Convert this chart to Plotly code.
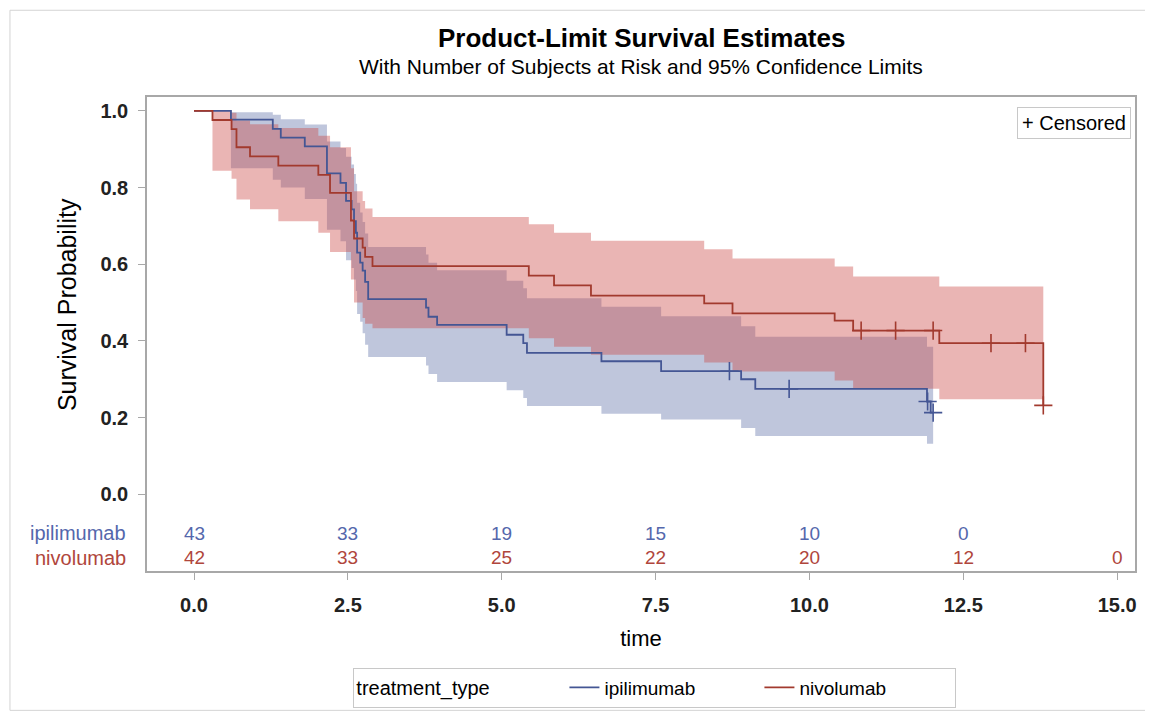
import plotly.graph_objects as go

# ---------------- data ----------------
groups = ["ipilimumab", "nivolumab"]

ipi_time = [0, 0.60, 1.28, 1.41, 1.80, 2.16, 2.38, 2.47, 2.56, 2.60, 2.63, 2.65, 2.70, 2.74, 2.78, 2.83,
            3.77, 3.81, 3.95, 5.08, 5.35, 5.41, 6.62, 7.59, 8.89, 9.12, 11.91, 11.97]
ipi_surv = [1.0, 0.977, 0.953, 0.930, 0.907, 0.837, 0.812, 0.765, 0.743, 0.712, 0.682, 0.630, 0.604, 0.583, 0.554, 0.509,
            0.487, 0.463, 0.442, 0.416, 0.394, 0.369, 0.347, 0.321, 0.300, 0.275, 0.242, 0.213]
ipi_upper = [1.0, 0.996, 0.990, 0.978, 0.964, 0.920, 0.903, 0.880, 0.860, 0.835, 0.810, 0.760, 0.735, 0.710, 0.680, 0.645,
             0.625, 0.604, 0.584, 0.557, 0.537, 0.511, 0.489, 0.464, 0.438, 0.411, 0.385, 0.385]
ipi_lower = [1.0, 0.850, 0.820, 0.800, 0.770, 0.690, 0.660, 0.610, 0.590, 0.560, 0.530, 0.470, 0.450, 0.420, 0.390, 0.358,
             0.336, 0.314, 0.293, 0.271, 0.251, 0.230, 0.210, 0.195, 0.173, 0.152, 0.132, 0.132]
ipi_end = 12.01
ipi_cens_time = [8.70, 9.67, 11.92, 12.01]
ipi_cens_surv = [0.321, 0.275, 0.242, 0.213]

niv_time = [0, 0.30, 0.61, 0.69, 0.91, 1.37, 2.02, 2.21, 2.55, 2.60, 2.74, 2.78, 2.90,
            5.44, 5.85, 6.45, 8.29, 8.75, 10.41, 10.71, 12.11, 13.80]
niv_surv = [1.0, 0.976, 0.952, 0.905, 0.881, 0.857, 0.833, 0.786, 0.714, 0.667, 0.643, 0.619, 0.595,
            0.570, 0.545, 0.518, 0.498, 0.472, 0.453, 0.427, 0.394, 0.232]
niv_upper = [1.0, 1.0, 0.995, 0.975, 0.965, 0.955, 0.935, 0.905, 0.850, 0.790, 0.765, 0.745, 0.723,
             0.704, 0.682, 0.661, 0.639, 0.615, 0.594, 0.568, 0.542, 0.542]
niv_lower = [1.0, 0.844, 0.823, 0.769, 0.743, 0.712, 0.682, 0.632, 0.560, 0.500, 0.460, 0.445, 0.433,
             0.407, 0.385, 0.364, 0.344, 0.320, 0.297, 0.275, 0.248, 0.248]
niv_end = 13.80
niv_cens_time = [10.84, 11.40, 12.01, 12.95, 13.51, 13.80]
niv_cens_surv = [0.427, 0.427, 0.427, 0.394, 0.394, 0.232]

risk_times = [0, 2.5, 5.0, 7.5, 10.0, 12.5, 15.0]
ipi_risk = [43, 33, 19, 15, 10, 0, None]
niv_risk = [42, 33, 25, 22, 20, 12, 0]

x_ticks = [0, 2.5, 5.0, 7.5, 10.0, 12.5, 15.0]
x_tick_text = ["0.0", "2.5", "5.0", "7.5", "10.0", "12.5", "15.0"]
y_ticks = [0, 0.2, 0.4, 0.6, 0.8, 1.0]
y_tick_text = ["0.0", "0.2", "0.4", "0.6", "0.8", "1.0"]

# ---------------- style ----------------
FONT = "Liberation Sans, Arial, Helvetica, sans-serif"
BLUE = "#445694"
RED = "#A23A2E"
BLUE_FILL = "rgba(95,112,167,0.40)"
RED_FILL = "rgba(202,70,67,0.40)"
BLUE_TXT = "#5467AC"
RED_TXT = "#B0463C"
AXIS = "#A8A8A8"

fig = go.Figure()

def add_band(t, up, lo, end, fill):
    xs = list(t) + [end]
    fig.add_trace(go.Scatter(x=xs, y=list(up) + [up[-1]], mode="lines", line=dict(width=0, shape="hv"),
                             showlegend=False, hoverinfo="skip"))
    fig.add_trace(go.Scatter(x=xs, y=list(lo) + [lo[-1]], mode="lines", line=dict(width=0, shape="hv"),
                             fill="tonexty", fillcolor=fill, showlegend=False, hoverinfo="skip"))

add_band(ipi_time, ipi_upper, ipi_lower, ipi_end, BLUE_FILL)
add_band(niv_time[:-1], niv_upper[:-1], niv_lower[:-1], niv_end, RED_FILL)

fig.add_trace(go.Scatter(x=list(ipi_time) + [ipi_end], y=list(ipi_surv) + [ipi_surv[-1]], mode="lines",
                         line=dict(color=BLUE, width=1.8, shape="hv"), name=groups[0]))
fig.add_trace(go.Scatter(x=list(niv_time), y=list(niv_surv), mode="lines",
                         line=dict(color=RED, width=1.8, shape="hv"), name=groups[1]))

fig.add_trace(go.Scatter(x=ipi_cens_time, y=ipi_cens_surv, mode="markers", showlegend=False,
                         marker=dict(symbol="cross-thin", size=13, line=dict(color=BLUE, width=1.6))))
fig.add_trace(go.Scatter(x=niv_cens_time, y=niv_cens_surv, mode="markers", showlegend=False,
                         marker=dict(symbol="cross-thin", size=13, line=dict(color=RED, width=1.6))))

annotations = []
y_ipi_row = -0.101
y_niv_row = -0.166
for t, n in zip(risk_times, ipi_risk):
    if n is not None:
        annotations.append(dict(x=t, y=y_ipi_row, xref="x", yref="y", text=str(n), showarrow=False,
                                font=dict(family=FONT, size=19, color=BLUE_TXT)))
for t, n in zip(risk_times, niv_risk):
    if n is not None:
        annotations.append(dict(x=t, y=y_niv_row, xref="x", yref="y", text=str(n), showarrow=False,
                                font=dict(family=FONT, size=19, color=RED_TXT)))
annotations.append(dict(x=-0.019, y=y_ipi_row, xref="paper", yref="y", text=groups[0], xanchor="right",
                        showarrow=False, font=dict(family=FONT, size=20, color=BLUE_TXT)))
annotations.append(dict(x=-0.019, y=y_niv_row, xref="paper", yref="y", text=groups[1], xanchor="right",
                        showarrow=False, font=dict(family=FONT, size=20, color=RED_TXT)))

annotations.append(dict(x=0.5, y=1.124, xref="paper", yref="paper", yanchor="middle",
                        text="<b>Product-Limit Survival Estimates</b>",
                        showarrow=False, font=dict(family=FONT, size=26, color="black")))
annotations.append(dict(x=0.5, y=1.065, xref="paper", yref="paper", yanchor="middle",
                        text="With Number of Subjects at Risk and 95% Confidence Limits",
                        showarrow=False, font=dict(family=FONT, size=21, color="black")))
annotations.append(dict(x=-0.081, y=0.563, xref="paper", yref="paper", xanchor="center", yanchor="middle",
                        text="Survival Probability", textangle=-90, showarrow=False,
                        font=dict(family=FONT, size=25, color="black")))
annotations.append(dict(x=0.9955, y=0.979, xref="paper", yref="paper", text="+ Censored", xanchor="right",
                        yanchor="top", showarrow=False, bordercolor="#C8C8C8", borderwidth=1, borderpad=4,
                        bgcolor="white", font=dict(family=FONT, size=20, color="black")))

fig.update_layout(
    width=1145, height=711,
    margin=dict(l=139, r=18, t=89, b=146),
    paper_bgcolor="white", plot_bgcolor="white",
    font=dict(family=FONT, color="black"),
    annotations=annotations,
    shapes=[dict(type="rect", xref="paper", yref="paper", x0=-0.1387, x1=1.0131, y0=-0.294, y1=1.183,
                 line=dict(color="#D4D4D4", width=1), layer="below")],
    xaxis=dict(range=[-0.764, 15.29], tickvals=x_ticks, ticktext=x_tick_text, ticks="outside", ticklen=7,
               tickcolor=AXIS, showline=True, linecolor=AXIS, linewidth=1.5, mirror=True, showgrid=False,
               zeroline=False, ticklabelstandoff=8,
               tickfont=dict(family=FONT, size=20, color="#222", weight="bold"),
               title=dict(text="time", font=dict(family=FONT, size=22, color="black"), standoff=16)),
    yaxis=dict(range=[-0.2, 1.036], tickvals=y_ticks, ticktext=y_tick_text, ticks="outside", ticklen=7,
               tickcolor=AXIS, showline=True, linecolor=AXIS, linewidth=1.5, mirror=True, showgrid=False,
               zeroline=False, ticklabelstandoff=6,
               tickfont=dict(family=FONT, size=20, color="#222", weight="bold")),
    legend=dict(orientation="h", x=0.514, xanchor="center", y=-0.246, yanchor="middle", traceorder="normal",
                title=dict(text="treatment_type" + "&nbsp;" * 12, font=dict(family=FONT, size=20, color="black")),
                font=dict(family=FONT, size=19, color="black"), bordercolor="#C8C8C8", borderwidth=1,
                entrywidth=150, bgcolor="white"),
)

fig.write_html("out.html")
